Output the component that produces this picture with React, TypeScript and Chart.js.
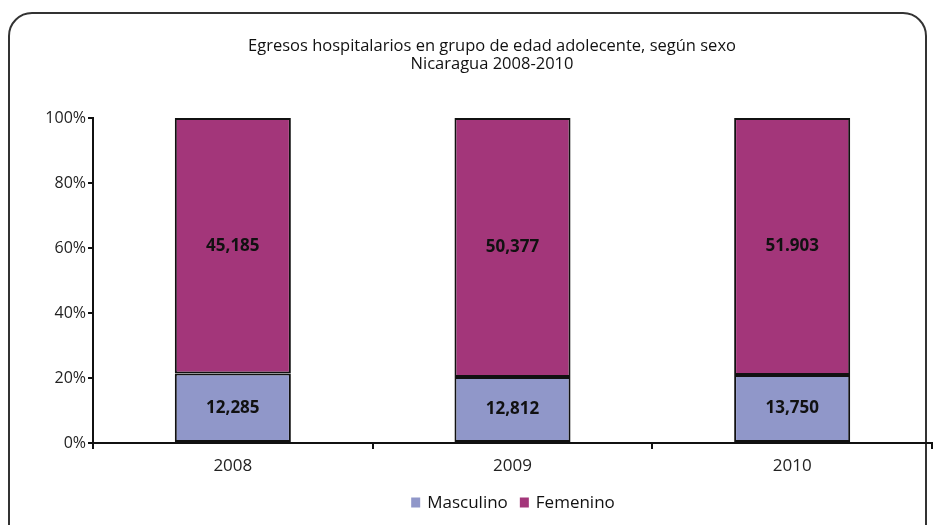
import React, { useEffect, useRef } from "react";
import { Chart, registerables } from "chart.js";

Chart.register(...registerables);

const categories = ["2008", "2009", "2010"];
const seriesNames = ["Masculino", "Femenino"];
const masculino = [12285, 12812, 13750];
const femenino = [45185, 50377, 51903];
const masculinoLabels = ["12,285", "12,812", "13,750"];
const femeninoLabels = ["45,185", "50,377", "51.903"];
const titleLines = [
  "Egresos hospitalarios en grupo de edad adolecente, según sexo",
  "Nicaragua 2008-2010",
];
const colors = ["#9097C9", "#A3367A"];
const FONT = "'Open Sans', 'Noto Sans', sans-serif";

const valueLabels = {
  id: "valueLabels",
  afterDatasetsDraw(chart: any) {
    const ctx = chart.ctx;
    ctx.save();
    ctx.font = `bold 17px ${FONT}`;
    ctx.fillStyle = "#111";
    ctx.textAlign = "center";
    ctx.textBaseline = "middle";
    chart.data.datasets.forEach((ds: any, di: number) => {
      const meta = chart.getDatasetMeta(di);
      meta.data.forEach((el: any, i: number) => {
        const y = (el.y + el.base) / 2;
        ctx.fillText(ds.valueLabels[i], el.x, y);
      });
    });
    ctx.restore();
  },
};

const titleAndLegend = {
  id: "titleAndLegend",
  afterDraw(chart: any) {
    const ctx = chart.ctx;
    ctx.save();
    ctx.fillStyle = "#111";
    ctx.textBaseline = "middle";
    ctx.textAlign = "center";
    ctx.font = `16.5px ${FONT}`;
    titleLines.forEach((t, i) => ctx.fillText(t, 492, 46 + i * 18));

    // legend
    ctx.font = `17px ${FONT}`;
    ctx.textAlign = "left";
    const box = 9;
    const gapBoxText = 7;
    const gapItems = 12;
    const widths = seriesNames.map((n) => box + gapBoxText + ctx.measureText(n).width);
    const total = widths.reduce((a, b) => a + b, 0) + gapItems * (seriesNames.length - 1);
    let x = 513 - total / 2;
    const cy = 503;
    seriesNames.forEach((n, i) => {
      ctx.fillStyle = colors[i];
      ctx.fillRect(x, cy - box / 2 - 1, box, box + 1);
      ctx.fillStyle = "#111";
      ctx.fillText(n, x + box + gapBoxText, cy);
      x += widths[i] + gapItems;
    });
    ctx.restore();
  },
};

export default function App() {
  const ref = useRef<HTMLCanvasElement | null>(null);
  useEffect(() => {
    if (!ref.current) return;
    const totals = masculino.map((m, i) => m + femenino[i]);
    const chart = new Chart(ref.current, {
      type: "bar",
      data: {
        labels: categories,
        datasets: [
          {
            label: seriesNames[0],
            data: masculino.map((m, i) => (m / totals[i]) * 100),
            backgroundColor: colors[0],
            borderColor: "#111",
            borderWidth: 2,
            borderSkipped: false,
            valueLabels: masculinoLabels,
          } as any,
          {
            label: seriesNames[1],
            data: femenino.map((f, i) => (f / totals[i]) * 100),
            backgroundColor: colors[1],
            borderColor: "#111",
            borderWidth: 2,
            borderSkipped: false,
            valueLabels: femeninoLabels,
          } as any,
        ],
      },
      options: {
        animation: false,
        responsive: false,
        maintainAspectRatio: false,
        layout: { padding: { left: 8, right: 2, top: 118, bottom: 42 } },
        datasets: { bar: { categoryPercentage: 1, barPercentage: 0.415 } },
        plugins: {
          title: { display: false },
          legend: { display: false },
          tooltip: { enabled: false },
        },
        scales: {
          x: {
            stacked: true,
            afterFit: (s: any) => {
              s.height = 40;
            },
            grid: {
              offset: true,
              drawOnChartArea: false,
              drawTicks: true,
              tickLength: 6,
              color: "#111",
              lineWidth: 2,
            },
            border: { display: true, color: "#111", width: 2 },
            ticks: { color: "#222", font: { family: FONT, size: 17 }, padding: 7 },
          },
          y: {
            stacked: true,
            min: 0,
            max: 100,
            afterFit: (s: any) => {
              s.width = 85;
            },
            grid: {
              drawOnChartArea: false,
              drawTicks: true,
              tickLength: 5,
              color: "#111",
              lineWidth: 2,
            },
            border: { display: true, color: "#111", width: 2 },
            ticks: {
              stepSize: 20,
              color: "#222",
              padding: 2,
              font: { family: FONT, size: 16 },
              callback: (v: any) => v + "%",
            },
          },
        },
      },
      plugins: [valueLabels, titleAndLegend],
    });
    return () => chart.destroy();
  }, []);

  return (
    <div style={{ position: "fixed", left: 0, top: 0, width: 934, height: 525, overflow: "hidden", background: "#fff" }}>
      <div
        style={{
          position: "absolute",
          left: 8,
          top: 12,
          width: 919,
          height: 600,
          border: "2px solid #333",
          borderRadius: 24,
          boxSizing: "border-box",
        }}
      />
      <canvas ref={ref} width={934} height={525} style={{ position: "absolute", left: 0, top: 0 }} />
    </div>
  );
}
